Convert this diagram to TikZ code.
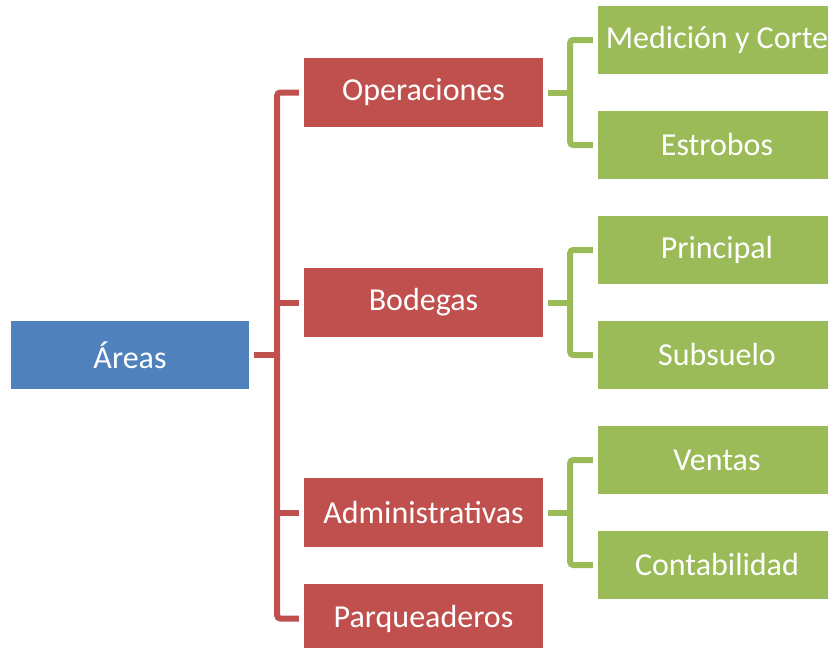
\documentclass[tikz,border=0pt]{standalone}
\usepackage{fontspec}
\setmainfont{Carlito}
\usepackage{xcolor}
\usepackage{tikz}
\usetikzlibrary{positioning,calc}
\definecolor{ARblue}{HTML}{4F81BD}
\definecolor{ARred}{HTML}{C0504D}
\definecolor{ARgreen}{HTML}{9BBB59}
\tikzset{
  rootbox/.style={fill=ARblue, text=white, minimum width=238pt, minimum height=68pt, inner sep=0pt, font=\fontsize{32}{38}\selectfont},
  areabox/.style={fill=ARred, text=white, minimum width=239pt, minimum height=69pt, inner sep=0pt, font=\fontsize{32}{38}\selectfont},
  subbox/.style={fill=ARgreen, text=white, minimum width=238pt, minimum height=68pt, inner sep=0pt, font=\fontsize{32}{38}\selectfont},
  redlink/.style={draw=ARred, line width=6pt, rounded corners=3pt},
  greenlink/.style={draw=ARgreen, line width=6pt, rounded corners=3pt}
}
\begin{document}
\begin{tikzpicture}[x=1pt, y=-1pt]
\useasboundingbox (0,0) rectangle (828,648);
\clip (0,0) rectangle (828,648);
% root
\node[rootbox] (areas) at (130,355) {Áreas};
% areas
\node[areabox] (oper) at (423.5,92.5) {Operaciones};
\node[areabox] (bod) at (423.5,302.5) {Bodegas};
\node[areabox] (adm) at (423.5,512.5) {Administrativas};
\node[areabox] (parq) at (423.5,618.5) {Parqueaderos};
% sub-areas
\node[subbox] (med) at (717,40) {Medición y Corte};
\node[subbox] (estr) at (717,145) {Estrobos};
\node[subbox] (prin) at (717,250) {Principal};
\node[subbox] (subs) at (717,355) {Subsuelo};
\node[subbox] (vent) at (717,460) {Ventas};
\node[subbox] (cont) at (717,565) {Contabilidad};
% red tree
\coordinate (redspine) at ([xshift=28pt]areas.east);
\draw[redlink] ([xshift=5pt]areas.east) -- (redspine);
\draw[redlink] ([xshift=-5pt]oper.west) -| (redspine) |- ([xshift=-5pt]parq.west);
\draw[redlink] ([xshift=-5pt]bod.west) -- (bod.west -| redspine);
\draw[redlink] ([xshift=-5pt]adm.west) -- (adm.west -| redspine);
% green trees
\foreach \a/\u/\l in {oper/med/estr, bod/prin/subs, adm/vent/cont}{
  \coordinate (\a spine) at ([xshift=27pt]\a.east);
  \draw[greenlink] ([xshift=5pt]\a.east) -- (\a spine);
  \draw[greenlink] ([xshift=-5pt]\u.west) -| (\a spine) |- ([xshift=-5pt]\l.west);
}
\end{tikzpicture}
\end{document}
